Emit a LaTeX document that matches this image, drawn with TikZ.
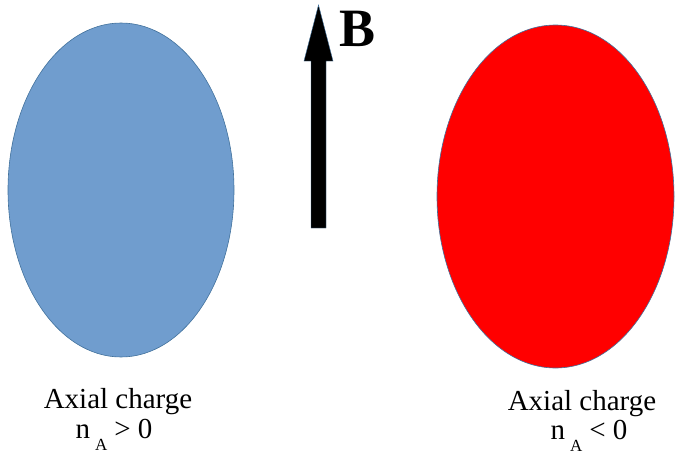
\documentclass[tikz,border=0pt]{standalone}
\usepackage{fontspec}
\IfFontExistsTF{LiberationSerif-Regular.ttf}
  {\setmainfont{LiberationSerif}[Extension=.ttf, UprightFont=*-Regular, BoldFont=*-Bold, ItalicFont=*-Italic, BoldItalicFont=*-BoldItalic]}
  {\setmainfont{Liberation Serif}}
\usetikzlibrary{shapes.geometric}
\definecolor{blobblue}{RGB}{112,157,206}
\definecolor{edgeblue}{RGB}{65,113,156}
\definecolor{blobred}{RGB}{255,0,0}
\tikzset{
  blob/.style={ellipse, inner sep=0pt, draw=edgeblue, line width=0.6pt},
  caption/.style={font=\fontsize{29}{33}\selectfont, align=center, inner sep=0pt, anchor=base},
}
\newcommand{\subA}{\hspace{5pt}\raisebox{-12pt}{\fontsize{17}{17}\selectfont A}\hspace{7pt}}
\begin{document}
\begin{tikzpicture}[x=1pt,y=-1pt]
\useasboundingbox (0,0) rectangle (675,455);
\node[blob, fill=blobblue, minimum width=226pt, minimum height=334pt] (left) at (121,190) {};
\node[blob, fill=blobred, minimum width=237pt, minimum height=343pt] (right) at (555.5,196.5) {};
\filldraw[fill=black, draw=edgeblue, line width=0.4pt]
  (311,228) -- (311,61) -- (304,61) -- (318.5,5) -- (333,61) -- (326,61) -- (326,228) -- cycle;
\coordinate (arrowtip) at (318.5,5);
\node[anchor=base west, inner sep=0pt, font=\fontsize{54}{54}\selectfont\bfseries] (B) at (339,46) {B};
\node[caption] (lt1) at (118,408) {Axial charge};
\node[caption] (lt2) at (114,438) {n\subA> 0};
\node[caption] (rt1) at (582,410) {Axial charge};
\node[caption] (rt2) at (589,439) {n\subA< 0};
\end{tikzpicture}
\end{document}
